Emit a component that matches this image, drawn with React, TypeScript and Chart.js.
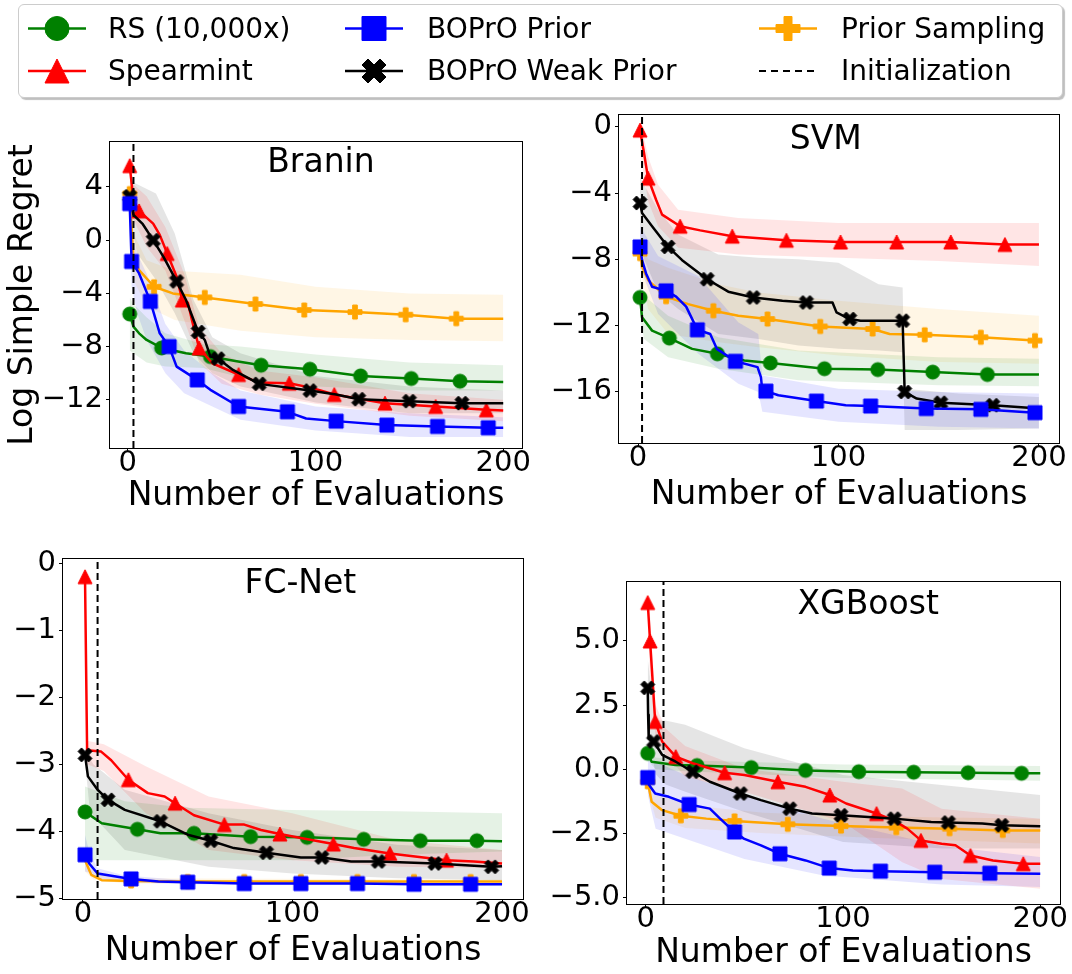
import React, { useEffect, useRef } from 'react';
import { Chart, registerables } from 'chart.js';

Chart.register(...registerables);

type Pt = [number, number];
type Bd = [number, number, number];

const FONT = "'DejaVu Sans', sans-serif";
const METHODS = ['RS (10,000x)', 'Spearmint', 'BOPrO Prior', 'BOPrO Weak Prior', 'Prior Sampling'];
const INIT_LABEL = 'Initialization';
const COLORS = ['#008000', '#ff0000', '#0000ff', '#000000', '#ffa500'];
const SHAPES = ['circle', 'triangle', 'square', 'x', 'plus'];
const X_TITLE = 'Number of Evaluations';
const Y_TITLE = 'Log Simple Regret';
const X_TICKS = [0, 100, 200];
const X_RANGE = [-9.5, 210];

// ---------------- Branin ----------------
const BRANIN_TITLE = 'Branin';
const BRANIN_Y_TICKS = [-12, -8, -4, 0, 4];
const BRANIN_Y_RANGE = [-15.62, 7.38];
const BRANIN_INIT = 3;
const BRANIN_RS: Pt[] = [[1, -5.55], [3, -6.5], [6, -7.0], [10, -7.5], [18, -8.1], [31, -8.5], [44, -8.75], [58, -9.1], [71, -9.4], [97, -9.7], [124, -10.2], [151, -10.4], [177, -10.6], [200, -10.65]];
const BRANIN_RS_BAND: Bd[] = [[1, -8.3, -4.3], [3, -8.5, -4.8], [10, -9.2, -5.8], [20, -9.5, -7.0], [40, -9.6, -7.8], [60, -10.3, -8.0], [100, -11.0, -8.6], [150, -11.3, -9.2], [200, -11.3, -9.4]];
const BRANIN_RS_MARKS = [1, 18, 44, 71, 97, 124, 151, 177];
const BRANIN_SP: Pt[] = [[1, 5.6], [3, 3.0], [6, 2.2], [13.5, 1.25], [17, 0.4], [21, -1.0], [26, -2.75], [29, -4.5], [32, -4.7], [35, -6.5], [38, -8.1], [45, -9.25], [59, -10.1], [70, -10.7], [86, -10.75], [98, -11.1], [110, -11.6], [137, -12.25], [164, -12.5], [191, -12.75], [200, -12.8]];
const BRANIN_SP_BAND: Bd[] = [[1, 4.5, 6.5], [3, 1.5, 4.2], [10, -0.5, 3.3], [20, -2.3, 1.0], [30, -6.0, -2.5], [38, -9.2, -6.5], [50, -10.8, -8.5], [70, -11.6, -9.8], [100, -12.3, -10.3], [150, -13.2, -11.5], [200, -13.6, -12.0]];
const BRANIN_SP_MARKS = [1, 6, 21, 29, 38, 59, 86, 110, 137, 164, 191];
const BRANIN_BP: Pt[] = [[1, 2.75], [2, -1.6], [6, -2.5], [12, -4.6], [17, -7.0], [22, -8.0], [26, -9.5], [37, -10.5], [44, -11.25], [59, -12.5], [85, -12.9], [95, -13.4], [111, -13.6], [138, -13.9], [165, -14.0], [192, -14.1], [200, -14.1]];
const BRANIN_BP_BAND: Bd[] = [[1, 1.0, 4.0], [2, -3.5, 0.5], [5, -5.5, -1.0], [10, -7.5, -2.5], [20, -10.0, -6.3], [30, -11.5, -8.3], [45, -12.5, -10.0], [60, -13.5, -11.3], [100, -14.3, -12.5], [150, -14.8, -13.0], [200, -14.8, -13.3]];
const BRANIN_BP_MARKS = [1, 2, 12, 22, 37, 59, 85, 111, 138, 165, 192];
const BRANIN_BW: Pt[] = [[1, 3.3], [3, 1.9], [8, 1.2], [13.5, 0.0], [19, -1.25], [26, -3.1], [31, -4.5], [37.5, -6.9], [41, -7.5], [44, -8.75], [48, -8.9], [56, -9.75], [70, -10.8], [97, -11.3], [111, -11.6], [123, -11.95], [150, -12.1], [178, -12.25], [200, -12.25]];
const BRANIN_BW_BAND: Bd[] = [[1, 1.5, 4.5], [5, -1.0, 4.2], [15, -3.0, 3.5], [25, -5.5, 0.5], [35, -8.5, -4.5], [45, -10.0, -7.3], [60, -11.0, -8.5], [100, -12.2, -10.2], [150, -13.0, -11.0], [200, -13.0, -11.3]];
const BRANIN_BW_MARKS = [1, 13.5, 26, 37.5, 48, 70, 97, 123, 150, 178];
const BRANIN_PS: Pt[] = [[1, 3.5], [3, -1.5], [6, -2.25], [14, -3.5], [24, -4.0], [41, -4.3], [68, -4.8], [94, -5.25], [121, -5.4], [148, -5.6], [175, -5.9], [200, -5.9]];
const BRANIN_PS_BAND: Bd[] = [[1, 1.5, 4.0], [3, -3.0, 0.5], [10, -5.0, -1.5], [25, -6.0, -2.3], [60, -6.8, -2.6], [100, -7.3, -3.5], [150, -7.5, -4.0], [200, -7.6, -4.1]];
const BRANIN_PS_MARKS = [1, 14, 41, 68, 94, 121, 148, 175];

// ---------------- SVM ----------------
const SVM_TITLE = 'SVM';
const SVM_Y_TICKS = [-16, -12, -8, -4, 0];
const SVM_Y_RANGE = [-19.08, 0.71];
const SVM_INIT = 2;
const SVM_RS: Pt[] = [[1, -10.3], [2, -11.5], [7, -12.3], [15.6, -12.75], [27, -13.4], [39.6, -13.7], [53, -14.1], [66, -14.25], [93, -14.6], [119.6, -14.65], [147, -14.8], [174.3, -14.95], [200, -14.95]];
const SVM_RS_BAND: Bd[] = [[1, -11.5, -9.0], [3, -12.8, -10.2], [15, -13.9, -11.4], [40, -14.6, -12.7], [80, -15.3, -13.5], [150, -15.6, -13.9], [200, -15.65, -14.0]];
const SVM_RS_MARKS = [1, 15.6, 39.6, 66, 93, 119.6, 147, 174.3];
const SVM_SP: Pt[] = [[1, -0.2], [3, -1.6], [5, -3.1], [9, -4.4], [12, -5.3], [21, -6.0], [31, -6.25], [47, -6.6], [74, -6.85], [101, -6.95], [129, -6.95], [156, -6.95], [183, -7.1], [200, -7.1]];
const SVM_SP_BAND: Bd[] = [[1, -1.5, 0.5], [5, -4.5, -1.8], [10, -6.0, -3.5], [20, -7.3, -5.0], [50, -7.7, -5.5], [100, -7.9, -5.8], [150, -8.1, -5.8], [200, -8.4, -5.8]];
const SVM_SP_MARKS = [1, 5, 21, 47, 74, 101, 129, 156, 183];
const SVM_BP: Pt[] = [[1, -7.25], [2, -8.05], [4, -8.85], [7, -9.65], [14, -9.9], [19, -10.25], [24, -10.85], [26.6, -11.5], [29.6, -12.25], [36, -12.5], [39.3, -13.4], [48.6, -14.15], [59.6, -14.5], [61.3, -15.1], [62, -15.9], [63.8, -15.95], [70, -16.2], [89, -16.55], [103.6, -16.8], [116, -16.85], [143.8, -17.0], [171, -17.05], [198, -17.25], [200, -17.25]];
const SVM_BP_BAND: Bd[] = [[1, -8.5, -6.0], [10, -11.3, -7.8], [30, -13.7, -9.0], [50, -15.5, -11.8], [60, -16.0, -12.5], [62, -17.2, -15.0], [100, -17.8, -15.8], [150, -18.1, -16.0], [200, -18.2, -16.1]];
const SVM_BP_MARKS = [1, 14, 29.6, 48.6, 63.8, 89, 116, 143.8, 171, 198];
const SVM_BW: Pt[] = [[1, -4.6], [2, -5.2], [7, -6.0], [15, -7.25], [22, -8.05], [34.5, -9.2], [45, -9.95], [57.5, -10.3], [72, -10.5], [84, -10.6], [97, -10.6], [99, -11.2], [105.6, -11.6], [111, -11.7], [132, -11.7], [133, -16.0], [139, -16.4], [151, -16.65], [177, -16.8], [200, -17.0]];
const SVM_BW_BAND: Bd[] = [[1, -6.5, -3.0], [3, -8.0, -3.5], [10, -10.0, -5.0], [20, -11.0, -6.5], [40, -12.5, -7.7], [60, -12.8, -7.9], [80, -13.2, -8.0], [100, -13.4, -8.2], [120, -13.5, -9.5], [132, -13.6, -9.7], [133, -18.3, -15.8], [160, -18.3, -16.1], [200, -18.2, -16.3]];
const SVM_BW_MARKS = [1, 15, 34.5, 57.5, 84, 105.6, 132, 133, 151, 177];
const SVM_PS: Pt[] = [[1, -7.65], [2, -8.45], [5, -9.25], [14, -10.25], [25, -10.7], [37.6, -11.1], [50, -11.4], [64.6, -11.6], [90.9, -12.05], [117, -12.2], [125.5, -12.5], [143, -12.55], [171, -12.7], [198, -12.9], [200, -12.9]];
const SVM_PS_BAND: Bd[] = [[1, -8.5, -6.8], [5, -11.0, -8.0], [15, -12.5, -8.5], [40, -13.0, -9.5], [60, -13.3, -10.0], [100, -13.8, -10.5], [150, -14.2, -11.0], [200, -14.3, -11.4]];
const SVM_PS_MARKS = [1, 14, 37.6, 64.6, 90.9, 117, 143, 171, 198];

// ---------------- FC-Net ----------------
const FC_TITLE = 'FC-Net';
const FC_Y_TICKS = [-5, -4, -3, -2, -1, 0];
const FC_Y_RANGE = [-5.01, 0.064];
const FC_INIT = 7;
const FC_RS: Pt[] = [[1, -3.71], [9, -3.88], [26, -3.97], [37, -4.03], [53, -4.03], [80, -4.08], [107, -4.09], [134, -4.12], [161, -4.14], [188, -4.14], [200, -4.15]];
const FC_RS_BAND: Bd[] = [[1, -4.43, -3.33], [20, -4.43, -3.55], [50, -4.43, -3.65], [100, -4.43, -3.68], [150, -4.35, -3.7], [200, -4.3, -3.73]];
const FC_RS_MARKS = [1, 26, 53, 80, 107, 134, 161, 188];
const FC_SP: Pt[] = [[1, -0.2], [2, -2.79], [8.7, -2.81], [13.5, -2.94], [21.7, -3.23], [31, -3.43], [39, -3.48], [44, -3.58], [53, -3.76], [67.5, -3.9], [77, -3.9], [85, -3.98], [94, -4.04], [104, -4.1], [119.5, -4.19], [129.4, -4.25], [146.5, -4.33], [159.5, -4.38], [173.5, -4.43], [186.5, -4.45], [200, -4.48]];
const FC_SP_BAND: Bd[] = [[2, -3.0, -2.65], [10, -3.1, -2.7], [30, -3.73, -3.03], [60, -4.28, -3.48], [100, -4.43, -3.73], [150, -4.53, -4.13], [200, -4.55, -4.28]];
const FC_SP_MARKS = [1, 21.7, 44, 67.5, 94, 119.5, 146.5, 173.5];
const FC_BP: Pt[] = [[1, -4.35], [3, -4.48], [7, -4.63], [23, -4.71], [36, -4.75], [50, -4.76], [77, -4.78], [104, -4.78], [131, -4.78], [158, -4.79], [185, -4.79], [200, -4.79]];
const FC_BP_BAND: Bd[] = [[1, -4.6, -4.05], [3, -4.62, -4.3], [7, -4.7, -4.55], [20, -4.76, -4.66], [50, -4.79, -4.73], [200, -4.81, -4.77]];
const FC_BP_MARKS = [1, 23, 50, 77, 104, 131, 158, 185];
const FC_BW: Pt[] = [[1, -2.86], [2.4, -3.18], [7, -3.38], [12, -3.53], [20, -3.68], [37, -3.85], [50, -4.05], [61, -4.14], [72, -4.25], [87.6, -4.32], [104, -4.39], [114, -4.39], [128, -4.45], [141, -4.45], [168, -4.48], [195, -4.53], [200, -4.52]];
const FC_BW_BAND: Bd[] = [[1, -2.95, -2.75], [3, -3.6, -2.9], [5, -3.78, -3.0], [20, -4.28, -3.38], [60, -4.53, -3.73], [100, -4.63, -3.98], [150, -4.7, -4.2], [200, -4.73, -4.28]];
const FC_BW_MARKS = [1, 12, 37, 61, 87.6, 114, 141, 168, 195];
const FC_PS: Pt[] = [[1, -4.43], [4, -4.65], [9, -4.73], [23, -4.74], [50, -4.75], [77, -4.75], [104, -4.75], [131, -4.75], [158, -4.75], [185, -4.75], [200, -4.75]];
const FC_PS_BAND: Bd[] = [[1, -4.6, -4.3], [5, -4.72, -4.58], [20, -4.78, -4.7], [200, -4.78, -4.72]];
const FC_PS_MARKS = [23, 50, 77, 104, 131, 158, 185];

// ---------------- XGBoost ----------------
const XGB_TITLE = 'XGBoost';
const XGB_Y_TICKS = [-5, -2.5, 0, 2.5, 5];
const XGB_Y_RANGE = [-5.26, 7.3];
const XGB_INIT = 9;
const XGB_RS: Pt[] = [[1, 0.62], [3, 0.29], [15, 0.16], [26, 0.14], [53.5, 0.06], [81, -0.05], [108, -0.1], [135.8, -0.12], [163.4, -0.14], [190.5, -0.16], [200, -0.16]];
const XGB_RS_BAND: Bd[] = [[1, 0.35, 0.85], [5, 0.0, 0.45], [20, -0.08, 0.35], [100, -0.35, 0.18], [200, -0.45, 0.12]];
const XGB_RS_MARKS = [1, 26, 53.5, 81, 108, 135.8, 163.4, 190.5];
const XGB_SP: Pt[] = [[1, 6.5], [2.2, 5.0], [4.8, 1.86], [8.3, 1.08], [15.2, 0.49], [23.8, 0.23], [40, -0.14], [50, -0.23], [67, -0.49], [81, -0.69], [93.3, -1.01], [101.6, -1.34], [117, -1.73], [125.7, -2.0], [132.6, -2.32], [139.5, -2.78], [150, -2.91], [157, -2.97], [164.6, -3.37], [176, -3.56], [191.4, -3.69], [200, -3.69]];
const XGB_SP_BAND: Bd[] = [[1, 6.3, 6.7], [2, 3.8, 6.2], [5, 1.2, 2.5], [10, 0.56, 1.6], [20, -0.3, 0.9], [50, -0.88, 0.03], [100, -2.06, -0.49], [130, -3.63, -0.75], [150, -4.28, -1.54], [200, -4.67, -1.93]];
const XGB_SP_MARKS = [1, 2.2, 4.8, 15.2, 40, 67, 93.3, 117, 139.5, 164.6, 191.4];
const XGB_BP: Pt[] = [[1, -0.33], [1.7, -0.62], [4.8, -0.95], [11.7, -1.08], [22, -1.38], [32.5, -1.54], [37.7, -1.93], [45, -2.45], [49.7, -2.71], [58.4, -2.97], [68, -3.3], [81, -3.56], [93, -3.86], [105, -3.95], [119, -3.98], [146.5, -4.02], [174.4, -4.06], [200, -4.08]];
const XGB_BP_BAND: Bd[] = [[1, -1.0, 0.4], [5, -2.32, 0.29], [20, -2.71, -0.23], [50, -3.5, -1.01], [90, -4.15, -1.93], [150, -4.5, -3.0], [200, -4.6, -3.43]];
const XGB_BP_MARKS = [1, 22, 45, 68, 93, 119, 146.5, 174.4];
const XGB_BW: Pt[] = [[1, 3.17], [1.2, 2.12], [1.5, 1.2], [4, 1.08], [8.3, 0.56], [15.2, 0.29], [23.8, -0.1], [32.5, -0.49], [48, -0.95], [58.4, -1.21], [73, -1.54], [84.3, -1.73], [99, -1.8], [118.8, -1.9], [126, -1.93], [144.7, -2.06], [153.4, -2.08], [170.6, -2.12], [180.5, -2.19], [200, -2.23]];
const XGB_BW_BAND: Bd[] = [[1, 1.5, 4.3], [5, -0.2, 1.9], [10, -0.6, 1.9], [20, -0.88, 1.73], [50, -1.67, 0.82], [100, -2.84, -0.23], [150, -3.1, -0.62], [200, -3.1, -1.01]];
const XGB_BW_MARKS = [1, 4, 23.8, 48, 73, 99, 126, 153.4, 180.5];
const XGB_PS: Pt[] = [[1, -0.49], [3, -1.27], [8.3, -1.6], [17.8, -1.82], [30.7, -1.93], [45, -2.02], [72, -2.15], [99, -2.22], [127, -2.28], [154, -2.32], [181, -2.39], [200, -2.39]];
const XGB_PS_BAND: Bd[] = [[1, -0.8, -0.2], [5, -1.9, -0.9], [20, -2.3, -1.4], [60, -2.5, -1.7], [120, -2.7, -1.85], [200, -2.9, -1.93]];
const XGB_PS_MARKS = [1, 17.8, 45, 72, 99, 127, 154, 181];

// ---------------- shapes ----------------
const TRI_POLY: Pt[] = [[0, -0.5], [-0.5, 0.5], [0.5, 0.5]];
const SQ_POLY: Pt[] = [[-0.5, -0.5], [0.5, -0.5], [0.5, 0.5], [-0.5, 0.5]];
const X_POLY: Pt[] = ([[-1, -2], [0, -1], [1, -2], [2, -1], [1, 0], [2, 1], [1, 2], [0, 1], [-1, 2], [-2, 1], [-1, 0], [-2, -1]] as Pt[]).map(p => [p[0] / 4, p[1] / 4] as Pt);
const PLUS_POLY: Pt[] = ([[-1, -3], [-1, -1], [-3, -1], [-3, 1], [-1, 1], [-1, 3], [1, 3], [1, 1], [3, 1], [3, -1], [1, -1], [1, -3]] as Pt[]).map(p => [p[0] / 6, p[1] / 6] as Pt);
const POLYS: Record<string, Pt[]> = { triangle: TRI_POLY, square: SQ_POLY, x: X_POLY, plus: PLUS_POLY };

function makeMarker(shape: string, color: string, size: number): HTMLCanvasElement {
  const c = document.createElement('canvas');
  const dim = Math.ceil(size + 4);
  c.width = dim; c.height = dim;
  const ctx = c.getContext('2d')!;
  const cx = dim / 2, cy = dim / 2;
  ctx.fillStyle = color; ctx.strokeStyle = color; ctx.lineWidth = 1; ctx.lineJoin = 'miter';
  ctx.beginPath();
  if (shape === 'circle') {
    ctx.arc(cx, cy, size / 2, 0, Math.PI * 2);
  } else {
    POLYS[shape].forEach((p, i) => {
      const x = cx + p[0] * size, y = cy + p[1] * size;
      if (i === 0) ctx.moveTo(x, y); else ctx.lineTo(x, y);
    });
    ctx.closePath();
  }
  ctx.fill(); ctx.stroke();
  return c;
}

function hexToRgba(hex: string, a: number) {
  const r = parseInt(hex.slice(1, 3), 16), g = parseInt(hex.slice(3, 5), 16), b = parseInt(hex.slice(5, 7), 16);
  return `rgba(${r},${g},${b},${a})`;
}

function fmtTick(v: number, decimals: number) {
  const s = Math.abs(v).toFixed(decimals);
  return v < 0 ? '\u2212' + s : s;
}

interface Series { mean: Pt[]; band: Bd[]; marks: number[] }
interface PanelCfg {
  title: string; yTicks: number[]; yRange: number[]; init: number; series: Series[]; decimals: number;
  showYTitle: boolean; plot: number[]; yw: number; titleFx: number; titleDy: number; xTitleOff: number;
}

const PANELS: PanelCfg[] = [
  {
    title: BRANIN_TITLE, yTicks: BRANIN_Y_TICKS, yRange: BRANIN_Y_RANGE, init: BRANIN_INIT, decimals: 0, showYTitle: true,
    series: [
      { mean: BRANIN_RS, band: BRANIN_RS_BAND, marks: BRANIN_RS_MARKS },
      { mean: BRANIN_SP, band: BRANIN_SP_BAND, marks: BRANIN_SP_MARKS },
      { mean: BRANIN_BP, band: BRANIN_BP_BAND, marks: BRANIN_BP_MARKS },
      { mean: BRANIN_BW, band: BRANIN_BW_BAND, marks: BRANIN_BW_MARKS },
      { mean: BRANIN_PS, band: BRANIN_PS_BAND, marks: BRANIN_PS_MARKS },
    ],
    plot: [110, 142, 522, 448], yw: 110, titleFx: 0.512, titleDy: 30, xTitleOff: 48,
  },
  {
    title: SVM_TITLE, yTicks: SVM_Y_TICKS, yRange: SVM_Y_RANGE, init: SVM_INIT, decimals: 0, showYTitle: false,
    series: [
      { mean: SVM_RS, band: SVM_RS_BAND, marks: SVM_RS_MARKS },
      { mean: SVM_SP, band: SVM_SP_BAND, marks: SVM_SP_MARKS },
      { mean: SVM_BP, band: SVM_BP_BAND, marks: SVM_BP_MARKS },
      { mean: SVM_BW, band: SVM_BW_BAND, marks: SVM_BW_MARKS },
      { mean: SVM_PS, band: SVM_PS_BAND, marks: SVM_PS_MARKS },
    ],
    plot: [619, 115, 1059, 443], yw: 80, titleFx: 0.47, titleDy: 34, xTitleOff: 52,
  },
  {
    title: FC_TITLE, yTicks: FC_Y_TICKS, yRange: FC_Y_RANGE, init: FC_INIT, decimals: 0, showYTitle: false,
    series: [
      { mean: FC_RS, band: FC_RS_BAND, marks: FC_RS_MARKS },
      { mean: FC_SP, band: FC_SP_BAND, marks: FC_SP_MARKS },
      { mean: FC_BP, band: FC_BP_BAND, marks: FC_BP_MARKS },
      { mean: FC_BW, band: FC_BW_BAND, marks: FC_BW_MARKS },
      { mean: FC_PS, band: FC_PS_BAND, marks: FC_PS_MARKS },
    ],
    plot: [63, 559, 523, 899], yw: 63, titleFx: 0.516, titleDy: 34, xTitleOff: 52,
  },
  {
    title: XGB_TITLE, yTicks: XGB_Y_TICKS, yRange: XGB_Y_RANGE, init: XGB_INIT, decimals: 1, showYTitle: false,
    series: [
      { mean: XGB_RS, band: XGB_RS_BAND, marks: XGB_RS_MARKS },
      { mean: XGB_SP, band: XGB_SP_BAND, marks: XGB_SP_MARKS },
      { mean: XGB_BP, band: XGB_BP_BAND, marks: XGB_BP_MARKS },
      { mean: XGB_BW, band: XGB_BW_BAND, marks: XGB_BW_MARKS },
      { mean: XGB_PS, band: XGB_PS_BAND, marks: XGB_PS_MARKS },
    ],
    plot: [627, 582, 1060, 904], yw: 85, titleFx: 0.557, titleDy: 32, xTitleOff: 49.5,
  },
];

const LINE_ORDER = [4, 3, 1, 2, 5];
const PT = 24, PR = 12, XH = 74;
const TICK_FONT = 29, LABEL_FONT = 33, TITLE_FONT = 33;

function Panel({ cfg }: { cfg: PanelCfg }) {
  const ref = useRef<HTMLCanvasElement>(null);
  const left = cfg.plot[0] - cfg.yw;
  const top = cfg.plot[1] - PT;
  const width = cfg.plot[2] + PR - left;
  const height = cfg.plot[3] + XH - top;

  useEffect(() => {
    const markers = COLORS.map((col, i) => makeMarker(SHAPES[i], col, 14));
    const datasets: any[] = [];
    cfg.series.forEach((s, i) => {
      datasets.push({
        data: s.band.map(b => ({ x: b[0], y: b[1] })), borderWidth: 0, pointRadius: 0, fill: false,
        borderColor: 'rgba(0,0,0,0)', order: 30 + i,
      });
      datasets.push({
        data: s.band.map(b => ({ x: b[0], y: b[2] })), borderWidth: 0, pointRadius: 0, fill: '-1',
        borderColor: 'rgba(0,0,0,0)', backgroundColor: hexToRgba(COLORS[i], 0.1), order: 30 + i,
      });
    });
    cfg.series.forEach((s, i) => {
      const marks = new Set(s.marks);
      datasets.push({
        data: s.mean.map(p => ({ x: p[0], y: p[1] })),
        borderColor: COLORS[i], backgroundColor: COLORS[i], borderWidth: 2.5,
        borderJoinStyle: 'round', borderCapStyle: 'butt',
        pointStyle: markers[i],
        pointRadius: (ctx: any) => (ctx.raw && marks.has(ctx.raw.x) ? 7 : 0),
        pointHoverRadius: 0, fill: false, tension: 0, order: LINE_ORDER[i],
      });
    });
    datasets.push({
      data: [{ x: cfg.init, y: cfg.yRange[0] }, { x: cfg.init, y: cfg.yRange[1] }],
      borderColor: '#000', borderWidth: 2, borderDash: [7, 4], pointRadius: 0, fill: false, order: 0,
    });

    const framePlugin = {
      id: 'frameTitle',
      afterDraw(chart: any) {
        const { ctx, chartArea: a } = chart;
        ctx.save();
        ctx.strokeStyle = '#000';
        ctx.lineWidth = 1;
        ctx.strokeRect(a.left - 0.5, a.top - 0.5, a.right - a.left + 1, a.bottom - a.top + 1);
        ctx.fillStyle = '#000';
        ctx.font = `${TITLE_FONT}px ${FONT}`;
        ctx.textAlign = 'center';
        ctx.textBaseline = 'alphabetic';
        ctx.fillText(cfg.title, a.left + cfg.titleFx * (a.right - a.left), a.top + cfg.titleDy);
        ctx.restore();
      },
    };

    const xPad = XH - (LABEL_FONT * 1.2) / 2 - cfg.xTitleOff;

    const chart = new Chart(ref.current!, {
      type: 'line',
      data: { datasets },
      plugins: [framePlugin],
      options: {
        responsive: false,
        animation: false,
        devicePixelRatio: 1,
        events: [],
        layout: { padding: { top: PT, right: PR, left: 0, bottom: 0 } },
        plugins: { legend: { display: false }, tooltip: { enabled: false }, title: { display: false } },
        scales: {
          x: {
            type: 'linear', min: X_RANGE[0], max: X_RANGE[1],
            afterBuildTicks: (sc: any) => { sc.ticks = X_TICKS.map(v => ({ value: v })); },
            afterFit: (sc: any) => { sc.height = XH; },
            ticks: {
              color: '#000', font: { family: FONT, size: TICK_FONT, lineHeight: 1 }, padding: -3,
              maxRotation: 0, autoSkip: false, callback: (v: any) => fmtTick(Number(v), 0),
            },
            grid: { display: true, drawOnChartArea: false, drawTicks: true, tickLength: 4, color: '#000', lineWidth: 1 },
            border: { display: false },
            title: {
              display: true, text: X_TITLE, color: '#000', font: { family: FONT, size: LABEL_FONT, lineHeight: 1.2 },
              padding: { top: 0, bottom: xPad },
            },
          },
          y: {
            type: 'linear', min: cfg.yRange[0], max: cfg.yRange[1],
            afterBuildTicks: (sc: any) => { sc.ticks = cfg.yTicks.map(v => ({ value: v })); },
            afterFit: (sc: any) => { sc.width = cfg.yw; },
            ticks: {
              color: '#000', font: { family: FONT, size: TICK_FONT, lineHeight: 1 }, padding: 3,
              autoSkip: false, callback: (v: any) => fmtTick(Number(v), cfg.decimals),
            },
            grid: { display: true, drawOnChartArea: false, drawTicks: true, tickLength: 4, color: '#000', lineWidth: 1 },
            border: { display: false },
            title: {
              display: cfg.showYTitle, text: Y_TITLE, color: '#000', font: { family: FONT, size: LABEL_FONT, lineHeight: 1.2 },
              padding: { top: 4, bottom: 0 },
            },
          },
        },
      } as any,
    });
    return () => chart.destroy();
  }, []);

  return <canvas ref={ref} width={width} height={height} style={{ position: 'absolute', left, top, width, height }} />;
}

const LEGEND_COL_MARK_X = [57, 374, 788];
const LEGEND_COL_TEXT_X = [108, 427, 841];
const LEGEND_ROW_Y = [28.5, 71];
const LEGEND_FONT = 28;

function LegendMarker({ idx, cx, cy }: { idx: number; cx: number; cy: number }) {
  if (idx === 5) {
    return <line x1={cx - 29} y1={cy} x2={cx + 29} y2={cy} stroke="#000" strokeWidth={2} strokeDasharray="7,5" />;
  }
  const color = COLORS[idx];
  const shape = SHAPES[idx];
  const size = 24;
  let mark: any;
  if (shape === 'circle') {
    mark = <circle cx={cx} cy={cy} r={size / 2} fill={color} stroke={color} strokeWidth={1} />;
  } else {
    const pts = POLYS[shape].map(p => `${cx + p[0] * size},${cy + p[1] * size}`).join(' ');
    mark = <polygon points={pts} fill={color} stroke={color} strokeWidth={1} />;
  }
  return (
    <g>
      <line x1={cx - 29} y1={cy} x2={cx + 29} y2={cy} stroke={color} strokeWidth={2.5} />
      {mark}
    </g>
  );
}

function Legend() {
  const labels = [...METHODS, INIT_LABEL];
  const items: any[] = [];
  labels.forEach((lab, i) => {
    const col = Math.floor(i / 2), row = i % 2;
    items.push({ lab, i, mx: LEGEND_COL_MARK_X[col], tx: LEGEND_COL_TEXT_X[col], y: LEGEND_ROW_Y[row] });
  });
  return (
    <div style={{ position: 'absolute', left: 0, top: 0, width: 1072, height: 110 }}>
      <div style={{
        position: 'absolute', left: 18, top: 4, width: 1045, height: 94, boxSizing: 'border-box',
        border: '1px solid #cccccc', borderRadius: 6, background: '#fff', boxShadow: '2px 2px 1px rgba(0,0,0,0.25)',
      }} />
      <svg width={1072} height={110} style={{ position: 'absolute', left: 0, top: 0 }}>
        {items.map(it => <LegendMarker key={it.i} idx={it.i} cx={it.mx} cy={it.y} />)}
      </svg>
      {items.map(it => (
        <div key={'t' + it.i} style={{
          position: 'absolute', left: it.tx, top: it.y - LEGEND_FONT / 2, height: LEGEND_FONT, lineHeight: `${LEGEND_FONT}px`,
          fontFamily: FONT, fontSize: LEGEND_FONT, color: '#000', whiteSpace: 'nowrap',
        }}>{it.lab}</div>
      ))}
    </div>
  );
}

export default function App() {
  return (
    <div style={{ position: 'absolute', left: 0, top: 0, width: 1072, height: 974, background: '#fff', overflow: 'hidden' }}>
      {PANELS.map((p, i) => <Panel key={i} cfg={p} />)}
      <Legend />
    </div>
  );
}
